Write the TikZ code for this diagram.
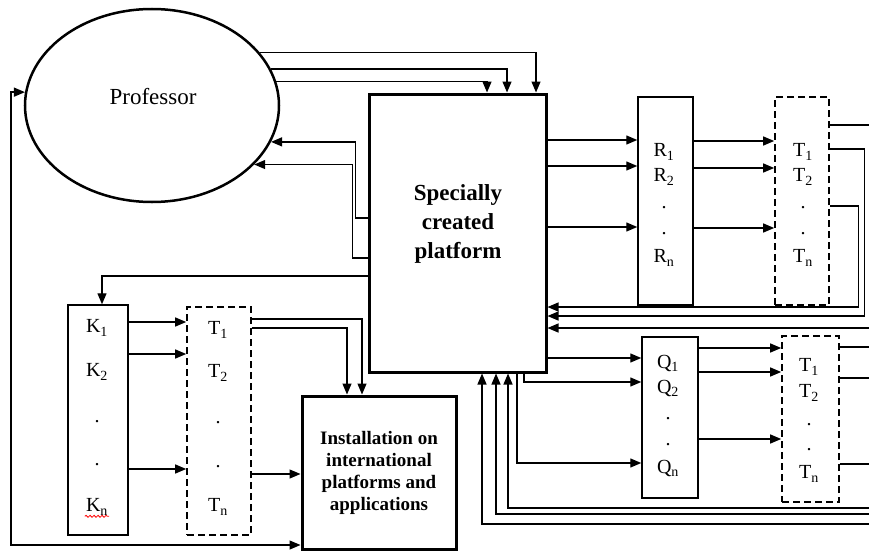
\documentclass[tikz,border=0pt]{standalone}
\usepackage{fontspec}
\setmainfont{Liberation Serif}
\usetikzlibrary{arrows.meta,shapes.geometric,calc,decorations.pathmorphing}

\begin{document}
\begin{tikzpicture}[x=1pt,y=-1pt,
  arr/.style={-{Triangle[length=11pt,width=9pt]},line width=1.3pt},
  twoway/.style={{Triangle[length=11pt,width=9pt]}-{Triangle[length=11pt,width=9pt]},line width=1.3pt},
  plain/.style={line width=1.3pt},
  block/.style={draw,line width=1.5pt,inner sep=0pt},
  bigblock/.style={draw,line width=3pt,inner sep=0pt},
  dashbox/.style={draw,line width=1.6pt,dash pattern=on 7pt off 4pt,inner sep=0pt},
  lbl/.style={inner sep=0pt,font=\fontsize{20}{24}\selectfont}]
\useasboundingbox (0,0) rectangle (869,551);
%\draw[step=50,gray,very thin] (0,0) grid (869,551); %background grid

% main blocks
\node[ellipse,draw,line width=2.5pt,minimum width=254pt,minimum height=193pt,inner sep=0pt] (prof) at (152,105.5) {};
\node[inner sep=0pt,font=\fontsize{23}{28}\selectfont] (proftext) at (153,97) {Professor};
\node[bigblock,minimum width=177pt,minimum height=278pt] (plat) at (457.5,233) {};
\node[inner sep=0pt,align=center,font=\bfseries\fontsize{23}{29}\selectfont] (plattext) at (458,224) {Specially\\created\\platform};
\node[bigblock,minimum width=154pt,minimum height=153pt,align=center,font=\bfseries\fontsize{19}{22}\selectfont] (inst) at (379,472.5) {Installation on\\international\\platforms and\\applications};

% columns
\node[block,minimum width=55pt,minimum height=208pt] (rbox) at (665.5,201) {};
\node[dashbox,minimum width=54pt,minimum height=208pt] (tr) at (802,201) {};
\node[block,minimum width=56pt,minimum height=161pt] (qbox) at (670,417.5) {};
\node[dashbox,minimum width=57pt,minimum height=166pt] (tq) at (810.5,419) {};
\node[block,minimum width=60pt,minimum height=230pt] (kbox) at (98,420) {};
\node[dashbox,minimum width=64pt,minimum height=228pt] (tk) at (219,421) {};

% R column
\node[lbl] (r1) at (664,152) {R\textsubscript{1}};
\node[lbl] (r2) at (664,177) {R\textsubscript{2}};
\node[lbl] (rd1) at (664,208) {.};
\node[lbl] (rd2) at (664,234) {.};
\node[lbl] (rn) at (664,258) {R\textsubscript{n}};
% T column (top)
\node[lbl] (tr1) at (803,152) {T\textsubscript{1}};
\node[lbl] (tr2) at (803,177) {T\textsubscript{2}};
\node[lbl] (trd1) at (803,208) {.};
\node[lbl] (trd2) at (803,234) {.};
\node[lbl] (trn) at (803,258) {T\textsubscript{n}};
% Q column
\node[lbl] (q1) at (668,363) {Q\textsubscript{1}};
\node[lbl] (q2) at (668,388) {Q\textsubscript{2}};
\node[lbl] (qd1) at (668,419) {.};
\node[lbl] (qd2) at (668,445) {.};
\node[lbl] (qn) at (668,468) {Q\textsubscript{n}};
% T column (bottom)
\node[lbl] (tq1) at (809,367) {T\textsubscript{1}};
\node[lbl] (tq2) at (809,393) {T\textsubscript{2}};
\node[lbl] (tqd1) at (809,425) {.};
\node[lbl] (tqd2) at (809,450) {.};
\node[lbl] (tqn) at (809,474) {T\textsubscript{n}};
% K column
\node[lbl] (k1) at (97,328) {K\textsubscript{1}};
\node[lbl] (k2) at (97,372) {K\textsubscript{2}};
\node[lbl] (kd1) at (97,422) {.};
\node[lbl] (kd2) at (97,465) {.};
\node[lbl] (kn) at (97,507) {K\textsubscript{n}};
\draw[red,line width=0.8pt,decorate,decoration={snake,amplitude=1pt,segment length=4pt}] ($(kn.south west)+(-1,1)$) -- ($(kn.south east)+(1,1)$);
% T column (left)
\node[lbl] (tk1) at (218,330) {T\textsubscript{1}};
\node[lbl] (tk2) at (218,373) {T\textsubscript{2}};
\node[lbl] (tkd1) at (218,423) {.};
\node[lbl] (tkd2) at (218,467) {.};
\node[lbl] (tkn) at (218,507) {T\textsubscript{n}};

% loose ends at the right border
\coordinate (etop) at (869,125);
\coordinate (eback) at (869,328);
\coordinate (eq1) at (869,347);
\coordinate (eq2) at (869,378);
\coordinate (eq3) at (869,464);
\coordinate (eb1) at (869,508);
\coordinate (eb2) at (869,514);
\coordinate (eb3) at (869,524);
\coordinate (lcorner) at (11,545);

% professor <-> platform
\draw[arr] (prof.26) -| ($(plat.north)+(78.5,0)$);
\draw[arr] (prof.17) -| ($(plat.north)+(49.5,0)$);
\draw[arr] (prof.11) -| ($(plat.north)+(29.5,0)$);
\draw[arr] ($(plat.west)+(0,-15)$) -- ++(-12,0) |- (prof.-17.5);
\draw[arr] ($(plat.west)+(0,25)$) -- ++(-15,0) |- (prof.-30);
\draw[twoway] (prof.174) -| (lcorner) -- (inst.west |- lcorner);

% platform -> R -> T
\draw[arr] (plat.east |- 0,140) -- (rbox.west |- 0,140);
\draw[arr] (plat.east |- 0,166) -- (rbox.west |- 0,166);
\draw[arr] (plat.east |- 0,227) -- (rbox.west |- 0,227);
\draw[arr] (rbox.east |- 0,141) -- (tr.west |- 0,141);
\draw[arr] (rbox.east |- 0,168) -- (tr.west |- 0,168);
\draw[arr] (rbox.east |- 0,228) -- (tr.west |- 0,228);
\draw[plain] (tr.east |- 0,125) -- (etop);
\draw[arr] (tr.east |- 0,149) -- ++(35,0) |- (plat.east |- 0,316);
\draw[arr] (tr.east |- 0,206) -- ++(29,0) |- (plat.east |- 0,307);
\draw[arr] (eback) -- (plat.east |- eback);

% platform -> Q -> T
\draw[arr] (plat.east |- 0,358) -- (qbox.west |- 0,358);
\draw[arr] (plat.south -| 524,0) |- (qbox.west |- 0,382);
\draw[arr] (plat.south -| 517,0) |- (qbox.west |- 0,463);
\draw[arr] (qbox.east |- 0,348) -- (tq.west |- 0,348);
\draw[arr] (qbox.east |- 0,372) -- (tq.west |- 0,372);
\draw[arr] (qbox.east |- 0,439) -- (tq.west |- 0,439);
\draw[plain] (tq.east |- eq1) -- (eq1);
\draw[plain] (tq.east |- eq2) -- (eq2);
\draw[plain] (tq.east |- eq3) -- (eq3);
\draw[arr] (eb1) -| (plat.south -| 508,0);
\draw[arr] (eb2) -| (plat.south -| 496,0);
\draw[arr] (eb3) -| (plat.south -| 482,0);

% platform -> K -> T -> installation
\draw[arr] ($(plat.west)+(0,43)$) -| ($(kbox.north)+(4,0)$);
\draw[arr] (kbox.east |- 0,322) -- (tk.west |- 0,322);
\draw[arr] (kbox.east |- 0,354) -- (tk.west |- 0,354);
\draw[arr] (kbox.east |- 0,469) -- (tk.west |- 0,469);
\draw[arr] (tk.east |- 0,319) -| (inst.north -| 362,0);
\draw[arr] (tk.east |- 0,328) -| (inst.north -| 347,0);
\draw[arr] (tk.east |- 0,474) -- (inst.west |- 0,474);
\end{tikzpicture}
\end{document}
